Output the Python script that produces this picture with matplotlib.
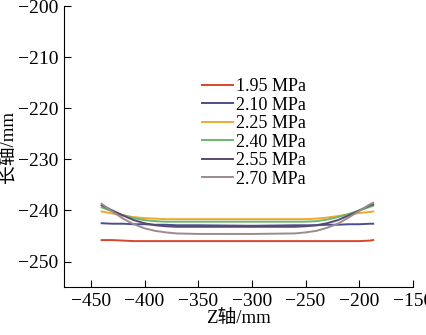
import matplotlib
matplotlib.use("Agg")
import matplotlib.pyplot as plt

plt.rcParams["font.family"] = ["Liberation Serif", "Noto Sans CJK SC"]
plt.rcParams["axes.unicode_minus"] = True

# Z-axis positions (mm)
z = [-440, -430, -420, -410, -400, -390, -380, -370, -350, -300,
     -260, -250, -240, -230, -220, -210, -200, -190, -187]

# long-axis profile (mm) for each pressure
p195 = [-245.8, -245.8, -245.9, -246.0, -246.0, -246.0, -246.0, -246.0, -246.0, -246.0,
        -246.0, -246.0, -246.0, -246.0, -246.0, -246.0, -246.0, -245.9, -245.8]
p210 = [-242.5, -242.6, -242.6, -242.7, -242.7, -242.8, -242.8, -242.9, -242.9, -243.0,
        -242.9, -242.9, -242.9, -242.8, -242.8, -242.7, -242.7, -242.6, -242.6]
p225 = [-240.2, -240.6, -241.0, -241.3, -241.5, -241.6, -241.7, -241.7, -241.7, -241.7,
        -241.7, -241.7, -241.6, -241.4, -241.1, -240.8, -240.5, -240.3, -240.2]
p240 = [-239.4, -240.2, -240.9, -241.5, -241.9, -242.1, -242.2, -242.2, -242.2, -242.2,
        -242.2, -242.2, -242.1, -241.8, -241.3, -240.7, -240.0, -239.3, -239.1]
p255 = [-239.0, -240.0, -241.0, -241.9, -242.5, -242.9, -243.1, -243.2, -243.2, -243.2,
        -243.2, -243.1, -242.9, -242.5, -241.9, -241.0, -240.0, -239.0, -238.8]
p270 = [-238.7, -240.2, -241.6, -242.7, -243.5, -244.0, -244.3, -244.5, -244.6, -244.6,
        -244.5, -244.3, -244.0, -243.4, -242.6, -241.4, -240.1, -238.8, -238.5]

labels = ["1.95 MPa", "2.10 MPa", "2.25 MPa", "2.40 MPa", "2.55 MPa", "2.70 MPa"]
colors = ["#d9452b", "#4b4f8f", "#f0a830", "#6ab86a", "#5a4872", "#9c8a8c"]
series = [p195, p210, p225, p240, p255, p270]

fig = plt.figure(figsize=(4.27, 3.35), dpi=100)
ax = fig.add_axes([0.150, 0.143, 0.817, 0.839])

for y, lab, c in zip(series, labels, colors):
    ax.plot(z, y, color=c, lw=1.4, label=lab)

ax.set_xlim(-475, -150)
ax.set_ylim(-255, -200)
ax.set_xticks([-450, -400, -350, -300, -250, -200, -150])
ax.set_yticks([-250, -240, -230, -220, -210, -200])
ax.spines["top"].set_visible(False)
ax.spines["right"].set_visible(False)
ax.tick_params(direction="in", labelsize=14, length=5, pad=4)
ax.set_xlabel("Z轴/mm", fontsize=13.5, labelpad=0)
ax.set_ylabel("长轴/mm", fontsize=13.5, labelpad=1)

ax.legend(loc="upper left", bbox_to_anchor=(0.37, 0.775), frameon=False,
          fontsize=13, handlelength=1.7, handletextpad=0.2,
          labelspacing=0.08, borderpad=0)

fig.savefig("out.png", dpi=100)
